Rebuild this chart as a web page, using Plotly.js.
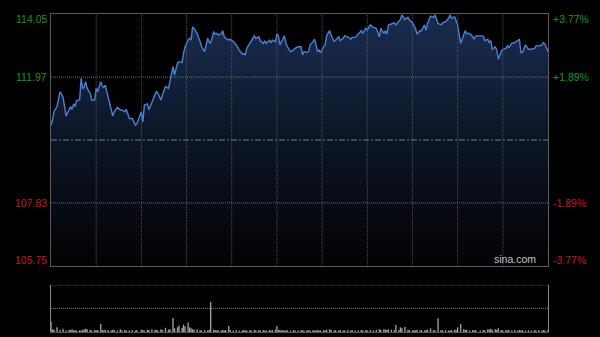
<!DOCTYPE html>
<html>
<head>
<meta charset="utf-8">
<script src="https://cdn.plot.ly/plotly-3.0.1.min.js"></script>
<style>
html,body{margin:0;padding:0;background:#000;}
#chart{width:600px;height:337px;}
</style>
</head>
<body>
<div id="chart"></div>
<script>
// minutes since session start
const times = [0,1,2,4,6,8,10,12,13,14,15,16,17,19,20,21,22,23,24,26,27,29,30,31,33,34,35,36,38,40,41,42,44,46,47,49,50,52,54,56,57,60,61,62,64,65,
67,69,70,71,73,74,76,78,79,81,82,84,85,87,88,89,91,92,93,94,95,97,99,100,102,104,105,106,108,109,110,111,113,114,115,116,118,119,121,123,125,127,128,129,130,132,
133,135,136,138,139,141,142,143,145,146,147,149,150,151,152,153,154,155,156,157,159,161,162,164,166,167,168,170,171,172,174,175,176,177,178,179,181,182,183,185,186,188,189,191,192,194,195,197,
199,200,202,204,206,207,209,210,212,214,216,218,219,221,222,223,224,226,228,229,231,232,233,235,237,238,240,241,242,243,245,246,248,249,250,252,254,255,257,259,260,262,264,
265,266,268,269,270,272,274,275,276,278,280,281,282,285,287,288,290,291,292,293,295,296,297,299,300,302,303,304,306,308,310,311,312,313,315,317,319,321,322,324,326,327,328,330];

const prices = [110.39,110.56,110.83,111.00,111.49,111.31,110.69,110.94,111.00,110.91,111.09,111.00,111.20,111.22,111.93,111.60,111.63,111.82,111.60,111.44,111.22,111.22,111.60,111.49,111.82,111.68,111.63,111.71,111.31,110.94,110.69,110.83,110.98,110.89,110.89,110.83,110.91,110.61,110.61,110.39,110.43,110.83,110.50,111.05,111.09,110.90,
111.16,111.44,111.51,111.44,111.22,111.38,111.66,111.60,111.82,112.32,112.04,112.43,112.48,112.45,112.75,112.97,113.19,113.25,113.19,113.61,113.58,113.41,113.14,112.97,112.81,113.25,113.14,113.08,113.47,113.39,113.41,113.36,113.39,113.50,113.30,113.25,113.19,113.22,113.14,113.03,112.86,112.73,112.75,112.70,112.92,113.08,
113.14,113.33,113.25,113.30,113.17,113.08,113.17,113.08,113.19,113.11,113.19,113.14,113.39,113.33,113.03,113.14,113.19,113.33,113.08,112.97,112.81,112.86,112.92,112.97,112.97,112.70,112.81,112.78,112.81,113.03,113.14,113.22,113.03,112.81,112.86,112.78,112.97,113.03,113.33,113.50,113.36,113.14,113.19,113.30,113.17,113.25,113.33,113.30,
113.22,113.28,113.28,113.39,113.50,113.41,113.58,113.52,113.69,113.61,113.58,113.30,113.58,113.41,113.50,113.39,113.69,113.72,113.76,113.69,113.80,113.87,114.02,113.87,113.94,113.85,113.76,113.69,113.58,113.39,113.50,113.50,113.69,113.52,113.74,113.98,113.94,114.02,113.74,113.69,113.76,113.80,113.91,
114.02,113.91,113.96,113.80,113.69,113.08,113.36,113.50,113.41,113.41,113.30,113.22,113.33,113.33,113.33,113.17,113.22,113.11,113.17,112.89,112.97,112.86,112.56,112.81,112.89,112.92,113.00,112.95,113.08,113.11,113.17,113.22,112.78,112.78,113.03,112.89,112.89,112.92,113.00,113.00,113.03,113.11,113.06,112.81];

const volumes = [22,6,5,10,4,7,3,5,4,6,3,4,3,4,3,4,6,7,6,5,3,4,3,4,17,4,3,5,4,3,5,4,3,6,3,4,3,3,4,3,4,5,4,3,5,4,
6,5,4,3,6,4,9,5,6,30,8,10,14,9,16,12,20,10,8,6,5,6,4,3,4,3,5,64,5,4,3,4,3,4,3,4,13,4,3,4,3,3,4,3,3,4,
3,4,3,4,3,4,3,3,4,3,4,5,13,4,5,3,4,3,3,4,3,4,3,3,4,3,3,4,3,3,4,3,3,4,3,3,4,3,5,6,4,3,4,3,4,3,3,4,
3,4,3,3,4,3,4,3,4,3,5,6,4,6,5,4,6,5,4,15,4,10,8,11,5,4,3,4,3,5,3,4,3,4,5,8,4,3,29,4,3,4,3,
3,4,5,4,10,17,6,4,5,3,4,3,4,3,4,3,6,5,7,4,6,5,8,4,3,4,3,4,3,4,3,4,3,4,3,4,3,4,3,4,3,4,3,4];

const prevClose = 109.90;
const priceTicks = [114.05, 111.97, 107.83, 105.75];
const pctTicks = ['+3.77%', '+1.89%', '-1.89%', '-3.77%'];
const gridTimes = [30,60,90,120,150,180,210,240,270,300];
const volGrid = [50, 100];

const up = '#169a16', down = '#c81818';

const shapes = [];
gridTimes.forEach(t => shapes.push({type:'line', xref:'x', yref:'y', x0:t, x1:t, y0:105.75, y1:114.05,
  line:{color:'rgba(100,100,100,0.8)', width:1, dash:'1px,1px'}, layer:'above'}));
[111.97, 107.83].forEach(p => shapes.push({type:'line', xref:'paper', yref:'y', x0:0, x1:1, y0:p, y1:p,
  line:{color:'rgba(120,120,120,0.9)', width:1, dash:'1px,1px'}, layer:'above'}));
shapes.push({type:'line', xref:'paper', yref:'y', x0:0, x1:1, y0:prevClose, y1:prevClose,
  line:{color:'rgba(130,140,155,0.85)', width:1, dash:'6px,2px,2px,2px'}, layer:'above'});
volGrid.forEach(v => shapes.push({type:'line', xref:'paper', yref:'y2', x0:0, x1:1, y0:v, y1:v,
  line:{color:'rgba(130,130,130,0.9)', width:1, dash:'1px,1px'}, layer:'above'}));

const annotations = [];
priceTicks.forEach((p, i) => {
  const col = p > prevClose ? up : down;
  const shift = i === 0 ? -5 : (i === priceTicks.length - 1 ? 6 : 0);
  annotations.push({xref:'paper', yref:'y', x:0, y:p, xanchor:'right', yanchor:'middle', xshift:-2, yshift:shift,
    text:p.toFixed(2), showarrow:false, font:{family:'Liberation Sans, Arial, sans-serif', size:10.5, color:col}});
  annotations.push({xref:'paper', yref:'y', x:1, y:p, xanchor:'left', yanchor:'middle', xshift:3, yshift:shift,
    text:pctTicks[i], showarrow:false, font:{family:'Liberation Sans, Arial, sans-serif', size:10.5, color:col}});
});
annotations.push({xref:'paper', yref:'y', x:1, y:105.75, xanchor:'right', yanchor:'bottom', xshift:-10, yshift:-1,
  text:'sina.com', showarrow:false, font:{family:'Liberation Sans, Arial, sans-serif', size:10.5, color:'#c4c4c4'}});

const traces = [
  {type:'scatter', mode:'lines', x:times, y:prices, xaxis:'x', yaxis:'y',
   line:{color:'#4a80d8', width:1.4}, fill:'tozeroy',
   fillgradient:{type:'vertical', start:105.75, stop:114.05,
     colorscale:[[0,'#020203'],[0.5,'#0c1526'],[1,'#1a2d50']]},
   hoverinfo:'skip'},
  {type:'bar', x:times, y:volumes, xaxis:'x2', yaxis:'y2', width:0.9,
   marker:{color:'#a0a0a0', line:{width:0}}, hoverinfo:'skip'}
];

const axBase = {showgrid:false, zeroline:false, showticklabels:false, ticks:'', fixedrange:true};
const layout = {
  width:600, height:337,
  margin:{l:51, r:52, t:14, b:5},
  paper_bgcolor:'#000', plot_bgcolor:'#000',
  showlegend:false,
  xaxis:Object.assign({}, axBase, {range:[0,330], anchor:'y', showline:true, mirror:true, linecolor:'#5c5c5c', linewidth:1}),
  yaxis:Object.assign({}, axBase, {range:[105.75,114.05], domain:[0.2075,1], anchor:'x', showline:true, mirror:true, linecolor:'#5c5c5c', linewidth:1}),
  xaxis2:Object.assign({}, axBase, {range:[0,330], anchor:'y2', showline:true, mirror:false, linecolor:'#555', linewidth:1}),
  yaxis2:Object.assign({}, axBase, {range:[0,100], domain:[0,0.1478], anchor:'x2', showline:true, mirror:true, linecolor:'#888', linewidth:1}),
  shapes:shapes,
  annotations:annotations
};

Plotly.newPlot('chart', traces, layout, {displayModeBar:false, staticPlot:true});
</script>
</body>
</html>
